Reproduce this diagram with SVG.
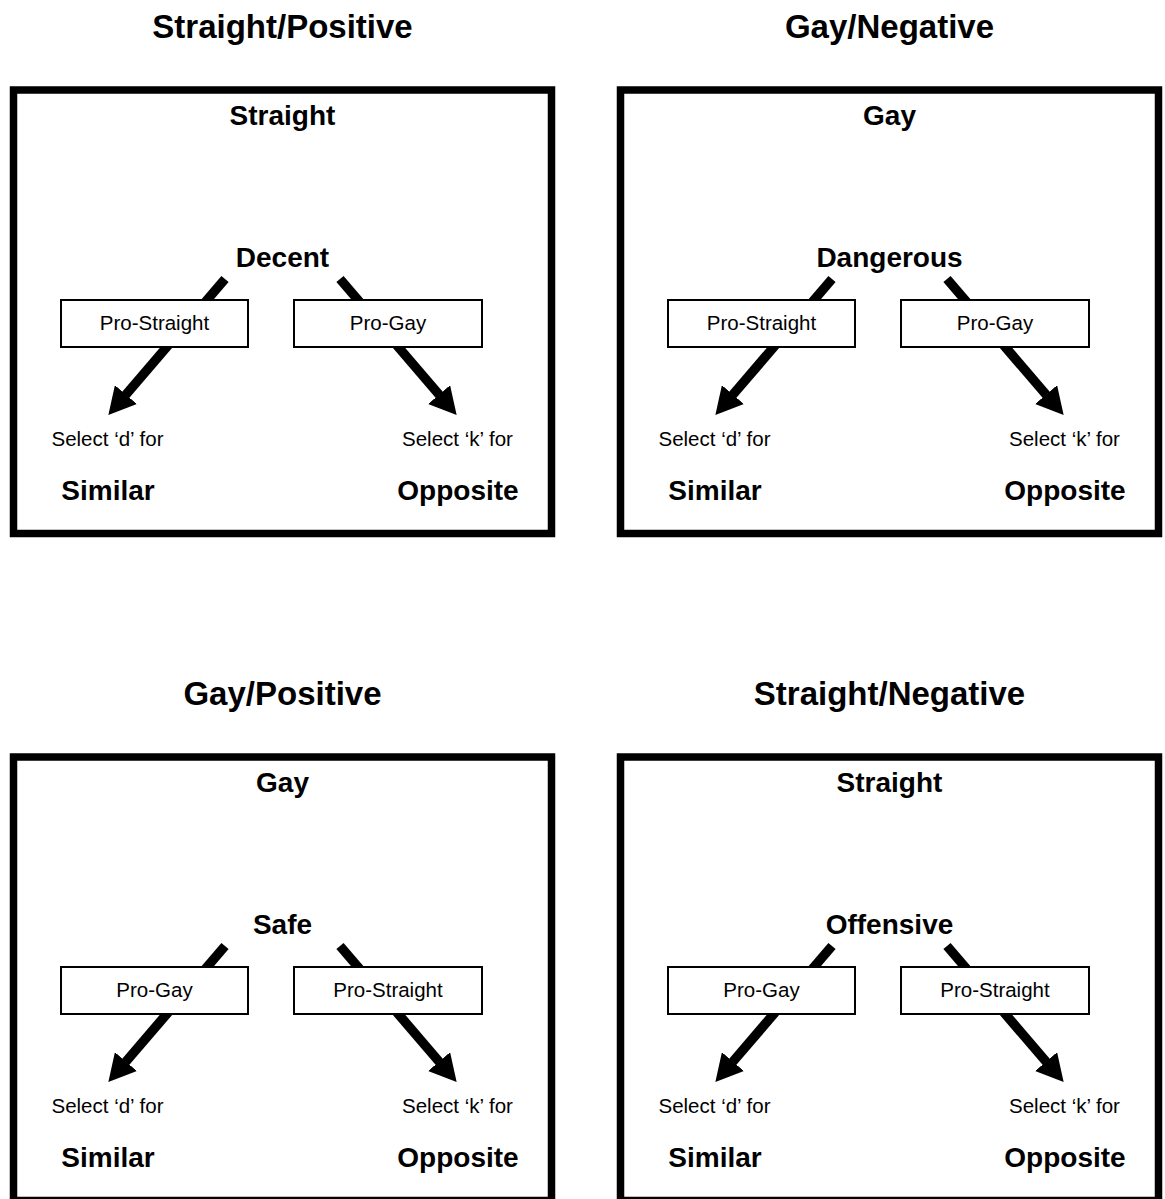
<svg xmlns="http://www.w3.org/2000/svg" width="1165" height="1199" viewBox="0 0 1165 1199">
<style>
  text { font-family: "Liberation Sans", Arial, Helvetica, sans-serif; fill: #000; text-anchor: middle; }
  .title { font-size: 33px; font-weight: bold; }
  .label { font-size: 28px; font-weight: bold; }
  .small { font-size: 20.5px; }
  .frame { fill: none; stroke: #000; stroke-width: 7.5; }
  .cat { fill: #fff; stroke: #000; stroke-width: 2; }
  .arrow { fill: none; stroke: #000; stroke-width: 9.5; stroke-linecap: butt; marker-end: url(#head); }
</style>
<defs>
  <marker id="head" markerUnits="userSpaceOnUse" markerWidth="27" markerHeight="29" viewBox="0 0 27 29" refX="0.5" refY="14.5" orient="auto">
    <path d="M0,0 L27,14.5 L0,29 Z" fill="#000"/>
  </marker>
  <g id="arrowpair">
    <path class="arrow" d="M225,279 L125.6,395"/>
    <path class="arrow" d="M340,279 L439.4,395"/>
  </g>
</defs>
<rect width="1165" height="1199" fill="#fff"/>

<g id="connectors">
  <use href="#arrowpair"/>
  <use href="#arrowpair" transform="translate(607,0)"/>
  <use href="#arrowpair" transform="translate(0,667)"/>
  <use href="#arrowpair" transform="translate(607,667)"/>
</g>

<g id="panel-straight-positive">
  <text class="title" x="282.5" y="37.5">Straight/Positive</text>
  <rect class="frame" x="13.5" y="90" width="538" height="443.5"/>
  <text class="label" x="282.5" y="125">Straight</text>
  <text class="label" x="282.5" y="267">Decent</text>
  <g id="p1-left"><rect class="cat" x="61" y="300" width="187" height="47"/><text class="small" x="154.5" y="330">Pro-Straight</text></g>
  <g id="p1-right"><rect class="cat" x="294" y="300" width="188" height="47"/><text class="small" x="388" y="330">Pro-Gay</text></g>
  <text class="small" x="107.5" y="446">Select ‘d’ for</text>
  <text class="small" x="457.5" y="446">Select ‘k’ for</text>
  <text class="label" x="108" y="500">Similar</text>
  <text class="label" x="458" y="500">Opposite</text>
</g>

<g id="panel-gay-negative" transform="translate(607,0)">
  <text class="title" x="282.5" y="37.5">Gay/Negative</text>
  <rect class="frame" x="13.5" y="90" width="538" height="443.5"/>
  <text class="label" x="282.5" y="125">Gay</text>
  <text class="label" x="282.5" y="267">Dangerous</text>
  <g id="p2-left"><rect class="cat" x="61" y="300" width="187" height="47"/><text class="small" x="154.5" y="330">Pro-Straight</text></g>
  <g id="p2-right"><rect class="cat" x="294" y="300" width="188" height="47"/><text class="small" x="388" y="330">Pro-Gay</text></g>
  <text class="small" x="107.5" y="446">Select ‘d’ for</text>
  <text class="small" x="457.5" y="446">Select ‘k’ for</text>
  <text class="label" x="108" y="500">Similar</text>
  <text class="label" x="458" y="500">Opposite</text>
</g>

<g id="panel-gay-positive" transform="translate(0,667)">
  <text class="title" x="282.5" y="37.5">Gay/Positive</text>
  <rect class="frame" x="13.5" y="90" width="538" height="443.5"/>
  <text class="label" x="282.5" y="125">Gay</text>
  <text class="label" x="282.5" y="267">Safe</text>
  <g id="p3-left"><rect class="cat" x="61" y="300" width="187" height="47"/><text class="small" x="154.5" y="330">Pro-Gay</text></g>
  <g id="p3-right"><rect class="cat" x="294" y="300" width="188" height="47"/><text class="small" x="388" y="330">Pro-Straight</text></g>
  <text class="small" x="107.5" y="446">Select ‘d’ for</text>
  <text class="small" x="457.5" y="446">Select ‘k’ for</text>
  <text class="label" x="108" y="500">Similar</text>
  <text class="label" x="458" y="500">Opposite</text>
</g>

<g id="panel-straight-negative" transform="translate(607,667)">
  <text class="title" x="282.5" y="37.5">Straight/Negative</text>
  <rect class="frame" x="13.5" y="90" width="538" height="443.5"/>
  <text class="label" x="282.5" y="125">Straight</text>
  <text class="label" x="282.5" y="267">Offensive</text>
  <g id="p4-left"><rect class="cat" x="61" y="300" width="187" height="47"/><text class="small" x="154.5" y="330">Pro-Gay</text></g>
  <g id="p4-right"><rect class="cat" x="294" y="300" width="188" height="47"/><text class="small" x="388" y="330">Pro-Straight</text></g>
  <text class="small" x="107.5" y="446">Select ‘d’ for</text>
  <text class="small" x="457.5" y="446">Select ‘k’ for</text>
  <text class="label" x="108" y="500">Similar</text>
  <text class="label" x="458" y="500">Opposite</text>
</g>
</svg>
